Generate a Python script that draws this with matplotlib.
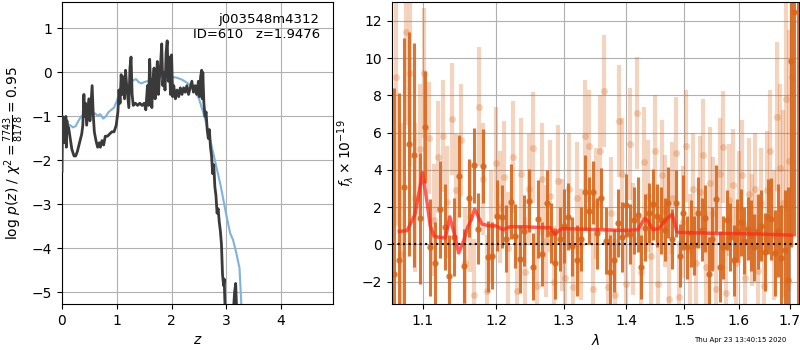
import numpy as np
import matplotlib
matplotlib.use('Agg')
import matplotlib.pyplot as plt

# p(z) curves
z_fit=[0.0,0.01,0.02,0.03,0.04,0.05,0.06,0.07,0.08,0.09,0.10,0.12,0.15,0.18,0.22,0.25,0.28,0.32,0.36,0.38,
       0.40,0.41,0.43,0.45,0.47,0.49,0.51,0.53,0.55,0.57,0.59,0.62,0.65,0.68,0.70,0.73,0.76,0.79,0.83,0.87,
       0.91,0.95,0.99,1.02,1.04,1.06,1.08,1.10,1.12,1.14,1.16,1.18,1.20,1.22,1.24,1.26,1.28,1.30,1.34,1.38,
       1.42,1.46,1.50,1.53,1.56,1.58,1.60,1.62,1.64,1.66,1.68,1.70,1.72,1.74,1.76,1.78,1.80,1.82,1.84,1.86,
       1.88,1.90,1.92,1.94,1.96,1.98,2.00,2.02,2.04,2.07,2.10,2.13,2.16,2.19,2.22,2.25,2.28,2.31,2.34,2.37,
       2.40,2.43,2.46,2.49,2.51,2.53,2.55,2.56,2.57,2.59,2.61,2.63,2.65,2.67,2.69,2.71,2.73,2.75,2.77,2.79,
       2.81,2.83,2.85,2.87,2.89,2.91,2.93,2.95,2.96,2.98,3.00,3.10,3.15,3.17,3.19,3.22]
logp_fit=[-2.25,-1.0,-1.5,-1.1,-1.6,-1.05,-1.35,-1.0,-1.7,-1.1,-1.3,-1.25,-1.5,-1.75,-1.9,-1.9,-1.8,-1.6,-1.4,-1.2,
          -0.5,-1.0,-0.7,-1.2,-0.9,-0.6,-1.1,-0.7,-0.3,-0.95,-1.35,-1.55,-1.7,-1.6,-1.7,-1.55,-1.65,-1.45,-1.45,-1.4,
          -1.35,-1.35,-1.2,-0.9,-0.4,-0.7,-0.05,-0.5,-0.1,-0.6,0.05,-0.3,-0.55,-0.8,0.1,0.35,-0.5,-0.75,-0.7,-0.75,
          -0.7,-0.75,-0.7,-0.85,-0.3,-0.75,0.3,-0.4,-0.8,-0.2,0.1,-0.6,-0.2,0.25,-0.5,-0.1,0.2,0.65,-0.3,0.0,
          -0.4,0.45,0.72,-0.2,0.35,-0.5,0.4,-0.55,-0.3,-0.6,-0.4,-0.55,-0.35,-0.5,-0.35,-0.45,-0.3,-0.5,-0.35,-0.2,
          -0.45,-0.3,-0.5,-0.2,-0.55,-0.1,0.05,-0.6,0.0,-0.7,-1.0,-0.9,-1.3,-1.5,-1.3,-1.7,-1.9,-2.3,-2.1,-2.6,
          -2.8,-3.2,-3.1,-3.4,-3.6,-3.9,-4.6,-4.85,-4.7,-5.5,-6.0,-6.0,-5.0,-4.8,-5.5,-6.5]

z_prior=[0.0,0.05,0.1,0.15,0.2,0.25,0.3,0.35,0.4,0.45,0.5,0.55,0.6,0.65,0.7,0.75,0.8,0.85,0.9,0.95,
         1.0,1.05,1.1,1.15,1.2,1.25,1.3,1.35,1.4,1.45,1.5,1.55,1.6,1.65,1.7,1.8,1.9,2.0,2.1,2.2,
         2.3,2.4,2.5,2.6,2.7,2.8,2.9,3.0,3.07,3.12,3.18,3.24,3.27,3.3]
logp_prior=[-1.28,-1.22,-1.18,-1.2,-1.25,-1.22,-1.1,-1.0,-0.98,-1.0,-0.95,-0.97,-0.93,-0.98,-0.95,-1.05,-1.0,-0.9,-0.85,-0.8,
            -0.65,-0.45,-0.33,-0.3,-0.28,-0.22,-0.18,-0.15,-0.22,-0.25,-0.22,-0.2,-0.2,-0.18,-0.12,-0.1,-0.08,-0.1,-0.12,-0.17,
            -0.25,-0.35,-0.6,-1.0,-1.5,-2.05,-2.6,-3.25,-3.66,-3.8,-4.1,-4.45,-5.2,-6.0]

# spectrum, binned (dark) points
flam_bin=[-1.6,-0.85,3.1,5.4,4.8,1.4,6.3,-0.15,-1.0,1.9,0.95,-1.7,0.4,3.65,-1.15,2.5,4.25,0.85,4.2,-0.65,
          -0.6,1.55,1.5,0.3,2.3,0.45,-0.8,0.75,2.35,-1.2,1.35,-0.5,2.2,0.6,-1.0,0.3,1.0,1.5,-0.1,-0.85,
          0.3,2.8,1.8,2.8,0.6,2.5,0.2,-1.5,-0.85,1.15,0.4,2.1,0.55,1.3,1.6,-1.2,0.9,1.7,2.15,1.55,
          1.3,0.8,2.25,0.3,2.2,-0.6,1.7,-0.15,0.6,-0.05,1.7,0.8,1.4,-1.6,0.3,2.45,-1.2,-0.15,1.3,0.4,
          -0.85,0.75,1.2,0.2,0.85,0.5,-0.15,0.7,1.0,-0.4,1.5,1.35,-0.45,0.75,-0.7,-0.3,-1.9,9.84,12.45,15.0]
err_bin=[10,9,8,6,6,3.5,3,2.6,2.2,2.6,2.3,2.2,2.1,2.2,2.0,2.1,2.0,1.9,2.0,1.9,
         1.8,1.9,1.7,1.8,2.0,1.7,1.8,1.9,1.7,1.8,2.1,1.7,1.8,1.6,1.9,1.7,2.0,1.8,1.6,1.9,
         1.7,2.0,1.8,1.7,1.9,1.6,1.8,2.0,1.7,1.8,1.9,1.7,1.6,1.8,2.0,1.7,1.8,1.6,1.9,1.7,
         1.8,1.7,1.9,1.6,1.8,1.7,2.0,1.7,1.8,1.6,1.9,1.7,1.8,2.0,1.7,1.8,1.9,1.7,1.6,1.8,
         1.9,1.7,1.8,1.8,1.7,1.9,1.8,2.0,1.9,2.1,2.0,2.2,2.3,2.5,2.8,3.2,5.0,10,12,20]

# spectrum, unbinned (light) points
flam_raw=[9.0,-0.5,11.4,9.2,2.5,5.1,9.2,5.7,1.3,4.7,5.8,2.3,6.75,2.9,5.6,-1.0,1.5,-2.7,7.4,3.5,
          -2.5,1.0,4.35,2.0,3.6,-0.2,4.7,-2.5,3.8,-1.5,2.95,5.2,-2.2,3.5,0.2,2.6,-2.0,3.4,0.5,-1.8,
          3.0,-2.3,2.5,0.0,5.8,5.3,-2.4,2.2,5.0,8.25,-2.3,1.7,-2.7,6.6,3.8,-2.1,5.4,0.3,7.05,-1.5,
          4.4,2.6,-0.6,5.0,-2.1,3.7,1.8,-2.9,2.5,4.9,-2.8,1.2,5.3,-0.3,3.0,-1.0,2.8,4.8,-1.2,3.3,
          1.7,-2.4,3.8,5.25,-2.6,2.4,3.2,-1.0,2.0,3.7,-1.8,2.7,0.8,3.0,-1.4,2.2,-2.2,2.9,5.0,0.5,
          6.85,4.1,2.2,7.8,4.5,9.0]
err_raw=[8,7,5,5,4,3.5,3.5,3,3,3,3,3,3,3,3,3,3,3,3.2,3,
         3,3,3,3,3,3,3,3,3,3,3,3,3,3,3,3,3,3,3,3,
         3,3,3,3,3,3,3,3,3,3,3,3,3,3,3,3,3,3,3,3,
         3,3,3,3,3,3,3,3,3,3,3,3,3,3,3,3,3,3,3,3,
         3,3,3,3,3,3,3,3,3,3,3,3,3,3,3,3,3,3.2,3.3,3.5,
         4,4.5,5,6,7,9]

# best-fit model
lam_model=[1.07,1.08,1.09,1.10,1.105,1.11,1.115,1.12,1.13,1.136,1.142,1.148,1.155,1.16,1.165,1.17,1.18,1.19,1.20,1.21,
           1.22,1.24,1.27,1.28,1.287,1.295,1.30,1.35,1.40,1.42,1.431,1.436,1.445,1.455,1.47,1.479,1.487,1.49,1.55,1.60,
           1.65,1.703]
flam_model=[0.7,0.75,1.6,3.85,2.5,1.0,0.45,0.4,0.35,1.48,0.6,-0.45,0.2,0.9,1.3,1.9,1.1,1.0,1.0,0.8,
            0.95,0.95,0.9,0.9,0.55,0.8,0.85,0.8,0.75,0.8,1.38,1.3,0.8,0.85,1.4,1.62,0.7,0.65,0.6,0.58,
            0.55,0.5]

lam_bin=np.linspace(1.063,1.716,len(flam_bin))
lam_raw=np.linspace(1.066,1.704,len(flam_raw))

fig=plt.figure(figsize=(8,3.5),dpi=100)
ax1=fig.add_axes([0.0775,0.131,0.339,0.863])
ax2=fig.add_axes([0.4896,0.131,0.509,0.863])

ax1.plot(z_prior,logp_prior,color='#7fb2dc',lw=1.5,zorder=2)
ax1.plot(z_fit,logp_fit,color='#3a3a3a',lw=2,zorder=3)
ax1.set_xlim(0,4.95)
ax1.set_ylim(-5.27,1.6)
ax1.set_xticks([0,1,2,3,4])
ax1.set_yticks([-5,-4,-3,-2,-1,0,1])
ax1.grid(True)
ax1.set_axisbelow(True)
ax1.set_xlabel(r'$z$')
ax1.set_ylabel(r'$\log\,p(z)$ / $\chi^2=\frac{7743}{8178}=0.95$')
ax1.text(0.95,0.965,'j003548m4312\nID=610   z=1.9476',transform=ax1.transAxes,
         ha='right',va='top',fontsize=9.5)

c='#d9661a'
ax2.errorbar(lam_raw,flam_raw,yerr=err_raw,fmt='o',color=c,alpha=0.28,ms=5,
             elinewidth=3,mec='none',zorder=1)
ax2.errorbar(lam_bin,flam_bin,yerr=err_bin,fmt='o',color=c,alpha=0.9,ms=4.5,
             elinewidth=2.2,mec='none',zorder=2)
ax2.plot(lam_model,flam_model,color='#ff2a1a',alpha=0.75,lw=2.5,zorder=4)
ax2.axhline(0,color='k',ls=':',lw=1.5,zorder=5)

ax2.set_xscale('log')
ax2.set_xlim(1.0604,1.7184)
ax2.set_ylim(-3.2,13)
ax2.set_xticks([1.1,1.2,1.3,1.4,1.5,1.6,1.7])
ax2.set_xticklabels(['1.1','1.2','1.3','1.4','1.5','1.6','1.7'])
ax2.xaxis.set_minor_locator(matplotlib.ticker.NullLocator())
ax2.set_yticks([-2,0,2,4,6,8,10,12])
ax2.grid(True)
ax2.set_axisbelow(True)
ax2.set_xlabel(r'$\lambda$')
ax2.set_ylabel(r'$f_\lambda\times10^{-19}$')

fig.text(0.983,0.029,'Thu Apr 23 13:40:15 2020',ha='right',va='center',fontsize=5)

plt.savefig('out.png',dpi=100)
